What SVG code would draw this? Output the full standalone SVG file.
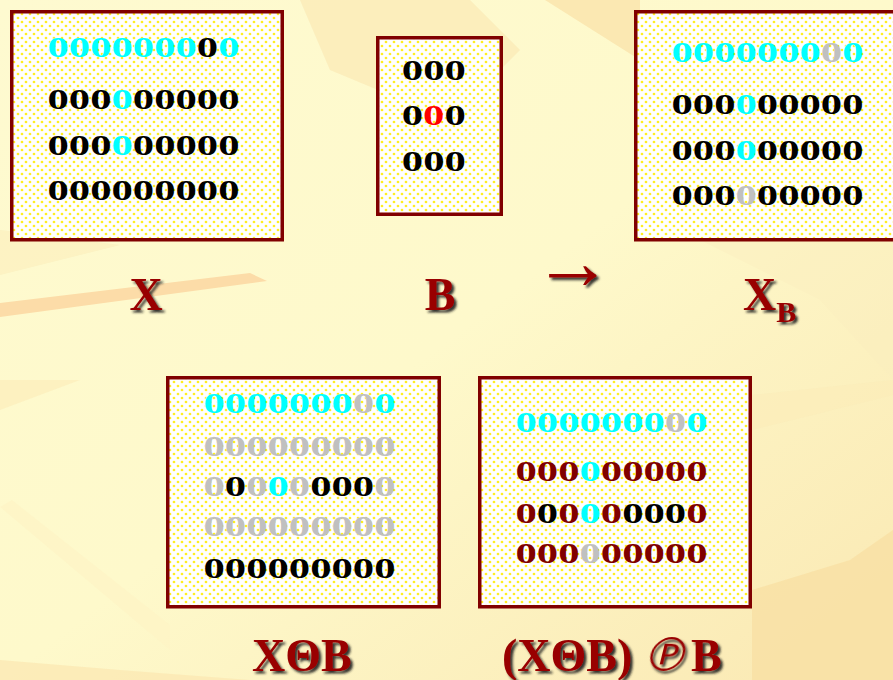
<svg xmlns="http://www.w3.org/2000/svg" width="893" height="680" viewBox="0 0 893 680">
<defs>
<linearGradient id="bg" x1="0" y1="0" x2="1" y2="1">
<stop offset="0" stop-color="#FEFAD0"/>
<stop offset="0.5" stop-color="#FEF9CB"/>
<stop offset="1" stop-color="#FAE8B2"/>
</linearGradient>
<pattern id="dots" width="8" height="8" patternUnits="userSpaceOnUse">
<rect width="8" height="8" fill="#FFFFFF"/>
<circle cx="2" cy="2" r="1.35" fill="#FFEE22"/>
<circle cx="6" cy="6" r="1.35" fill="#FFEE22"/>
</pattern>
<filter id="sh" x="-20%" y="-20%" width="150%" height="150%">
<feDropShadow dx="2.5" dy="2.5" stdDeviation="1.2" flood-color="#1a1a1a" flood-opacity="0.9"/>
</filter>
</defs>
<style>
.box{fill:url(#dots);stroke:#800000;stroke-width:3.5}
.d{font-family:"Liberation Serif","Times New Roman",serif;font-weight:bold;font-size:29px}
.c{fill:#00FFFF}.g{fill:#C0C0C0}.k{fill:#000000}.r{fill:#FF0000}.m{fill:#800000}
.lb{font-family:"Liberation Serif","Times New Roman",serif;font-weight:bold;font-size:46px;fill:#990000;filter:url(#sh)}
.sym{font-family:"DejaVu Serif","DejaVu Sans",serif;font-weight:normal;font-size:47px}
</style>
<g id="background">
<rect width="893" height="680" fill="url(#bg)"/>
<polygon points="300,0 470,0 520,50 450,120 330,70" fill="#FAE6B0" opacity="0.6"/>
<polygon points="545,0 640,0 640,60" fill="#F8DCA0" opacity="0.6"/>
<polygon points="0,303 250,273 267,281 0,317" fill="#FCDCA8"/>
<polygon points="0,230 120,245 0,275" fill="#FBEBB8" opacity="0.5"/>
<polygon points="0,380 80,380 0,410" fill="#FBEBB8" opacity="0.6"/>
<polygon points="0,507 12,500 170,625 170,650" fill="#FEF3C4" opacity="0.7"/>
<polygon points="0,660 120,670 250,680 0,680" fill="#FBE7B0" opacity="0.7"/>
<polygon points="752,590 850,560 893,530 893,680 752,680" fill="#F9E0A4" opacity="0.8"/>
<polygon points="752,395 893,380 893,395 752,430" fill="#FBEBB8" opacity="0.5"/>
<polygon points="700,240 893,240 893,380 820,300" fill="#FBEDBD" opacity="0.4"/>
</g>
<g id="node-X">
<rect class="box" x="11.75" y="11.75" width="270.5" height="228"/>
<text class="d" x="47.5" y="57" textLength="192" lengthAdjust="spacingAndGlyphs"><tspan class="c">0000000</tspan><tspan class="k">0</tspan><tspan class="c">0</tspan></text>
<text class="d" x="47.5" y="109" textLength="192" lengthAdjust="spacingAndGlyphs"><tspan class="k">000</tspan><tspan class="c">0</tspan><tspan class="k">00000</tspan></text>
<text class="d" x="47.5" y="155" textLength="192" lengthAdjust="spacingAndGlyphs"><tspan class="k">000</tspan><tspan class="c">0</tspan><tspan class="k">00000</tspan></text>
<text class="d k" x="47.5" y="200" textLength="192" lengthAdjust="spacingAndGlyphs">000000000</text>
<text class="lb" x="146" y="310" text-anchor="middle">X</text>
</g>
<g id="node-B">
<rect class="box" x="377.75" y="37.75" width="123.5" height="176.5"/>
<text class="d k" x="401.8" y="80" textLength="64" lengthAdjust="spacingAndGlyphs">000</text>
<text class="d" x="401.8" y="125" textLength="64" lengthAdjust="spacingAndGlyphs"><tspan class="k">0</tspan><tspan class="r">0</tspan><tspan class="k">0</tspan></text>
<text class="d k" x="401.8" y="171" textLength="64" lengthAdjust="spacingAndGlyphs">000</text>
<text class="lb" x="440" y="310" text-anchor="middle">B</text>
</g>
<g id="arrow">
<text class="lb" x="533" y="289" style="font-size:80px">→</text>
</g>
<g id="node-XB">
<rect class="box" x="635.75" y="11.75" width="262" height="228"/>
<text class="d" x="671.5" y="61.5" textLength="192" lengthAdjust="spacingAndGlyphs"><tspan class="c">0000000</tspan><tspan class="g">0</tspan><tspan class="c">0</tspan></text>
<text class="d" x="671.5" y="114" textLength="192" lengthAdjust="spacingAndGlyphs"><tspan class="k">000</tspan><tspan class="c">0</tspan><tspan class="k">00000</tspan></text>
<text class="d" x="671.5" y="160" textLength="192" lengthAdjust="spacingAndGlyphs"><tspan class="k">000</tspan><tspan class="c">0</tspan><tspan class="k">00000</tspan></text>
<text class="d" x="671.5" y="205" textLength="192" lengthAdjust="spacingAndGlyphs"><tspan class="k">000</tspan><tspan class="g">0</tspan><tspan class="k">00000</tspan></text>
<text class="lb" x="743" y="310">X<tspan style="font-size:30px" dy="12">B</tspan></text>
</g>
<g id="node-erosion">
<rect class="box" x="167.75" y="377.75" width="271.5" height="229"/>
<text class="d" x="203.5" y="413" textLength="192" lengthAdjust="spacingAndGlyphs"><tspan class="c">0000000</tspan><tspan class="g">0</tspan><tspan class="c">0</tspan></text>
<text class="d g" x="203.5" y="455.5" textLength="192" lengthAdjust="spacingAndGlyphs">000000000</text>
<text class="d" x="203.5" y="496" textLength="192" lengthAdjust="spacingAndGlyphs"><tspan class="g">0</tspan><tspan class="k">0</tspan><tspan class="g">0</tspan><tspan class="c">0</tspan><tspan class="g">0</tspan><tspan class="k">000</tspan><tspan class="g">0</tspan></text>
<text class="d g" x="203.5" y="536" textLength="192" lengthAdjust="spacingAndGlyphs">000000000</text>
<text class="d k" x="203.5" y="577.5" textLength="192" lengthAdjust="spacingAndGlyphs">000000000</text>
<text class="lb" x="252" y="671">XΘB</text>
</g>
<g id="node-opening">
<rect class="box" x="479.75" y="377.75" width="270.5" height="229"/>
<text class="d" x="515.5" y="431.5" textLength="192" lengthAdjust="spacingAndGlyphs"><tspan class="c">0000000</tspan><tspan class="g">0</tspan><tspan class="c">0</tspan></text>
<text class="d" x="515.5" y="481" textLength="192" lengthAdjust="spacingAndGlyphs"><tspan class="m">000</tspan><tspan class="c">0</tspan><tspan class="m">00000</tspan></text>
<text class="d" x="515.5" y="522.5" textLength="192" lengthAdjust="spacingAndGlyphs"><tspan class="m">0</tspan><tspan class="k">0</tspan><tspan class="m">0</tspan><tspan class="c">0</tspan><tspan class="m">0</tspan><tspan class="k">000</tspan><tspan class="m">0</tspan></text>
<text class="d" x="515.5" y="562.5" textLength="192" lengthAdjust="spacingAndGlyphs"><tspan class="m">000</tspan><tspan class="g">0</tspan><tspan class="m">00000</tspan></text>
<text class="lb" x="502" y="671">(XΘB)<tspan x="691">B</tspan></text>
<text class="lb sym" x="0" y="0" transform="translate(640,671) skewX(-14)">℗</text>
</g>
</svg>
